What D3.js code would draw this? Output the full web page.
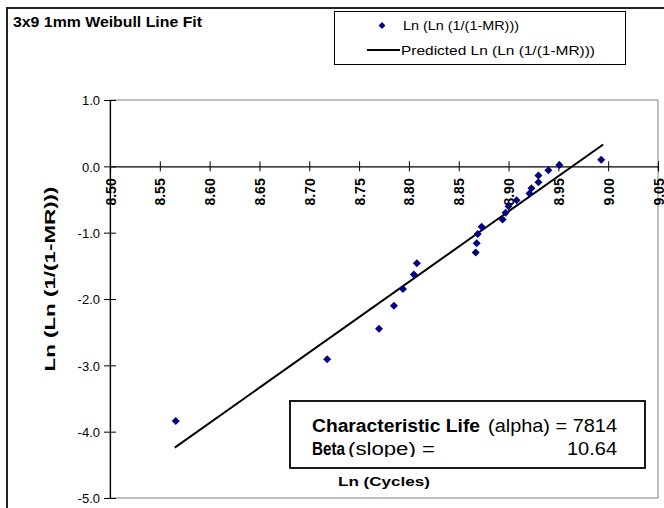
<!DOCTYPE html>
<html>
<head>
<meta charset="utf-8">
<script src="https://cdn.jsdelivr.net/npm/d3@7/dist/d3.min.js"></script>
<style>
  html, body { margin: 0; padding: 0; background: #fff; }
  svg { display: block; font-family: "Liberation Sans", Arial, sans-serif; }
</style>
</head>
<body>
<svg id="chart" width="664" height="508"></svg>
<script>
// ---- data ----
const lnCycles = [8.566, 8.718, 8.770, 8.785, 8.794, 8.805, 8.808, 8.867, 8.868, 8.869, 8.873,
                  8.894, 8.897, 8.900, 8.908, 8.921, 8.923, 8.930, 8.930, 8.940, 8.951, 8.993];
const lnLnMR   = [-3.84, -2.91, -2.45, -2.10, -1.85, -1.63, -1.46, -1.30, -1.16, -1.02, -0.91,
                  -0.80, -0.70, -0.60, -0.51, -0.41, -0.33, -0.24, -0.14, -0.06, 0.02, 0.10];
const predictedX = [8.565, 8.995];
const predictedY = [-4.24, 0.33];
const xTicks = [8.50, 8.55, 8.60, 8.65, 8.70, 8.75, 8.80, 8.85, 8.90, 8.95, 9.00, 9.05];
const xTickLabels = ["8.50", "8.55", "8.60", "8.65", "8.70", "8.75", "8.80", "8.85", "8.90", "8.95", "9.00", "9.05"];
const yTicks = [1, 0, -1, -2, -3, -4, -5];
const yTickLabels = ["1.0", "0.0", "-1.0", "-2.0", "-3.0", "-4.0", "-5.0"];
const seriesNames = ["Ln (Ln (1/(1-MR)))", "Predicted Ln (Ln (1/(1-MR)))"];
const alphaValue = "7814";
const betaValue = "10.64";

const svg = d3.select("#chart");

// outer chart border
svg.append("rect").attr("x", 7).attr("y", 8).attr("width", 700).attr("height", 560)
  .attr("fill", "#fff").attr("stroke", "#222").attr("stroke-width", 2);

const x = d3.scaleLinear().domain([8.5, 9.05]).range([110, 658]);
const y = d3.scaleLinear().domain([-5, 1]).range([498, 100]);

// plot area border
svg.append("rect").attr("x", x(8.5)).attr("y", y(1)).attr("width", x(9.05) - x(8.5)).attr("height", y(-5) - y(1))
  .attr("fill", "none").attr("stroke", "#808080").attr("stroke-width", 1);

// title
svg.append("text").attr("x", 13).attr("y", 27).attr("font-size", 14).attr("font-weight", "bold")
  .attr("textLength", 189).attr("lengthAdjust", "spacingAndGlyphs").text("3x9 1mm Weibull Line Fit");

// y axis
const yAxis = d3.axisLeft(y).tickValues(yTicks).tickFormat((d, i) => yTickLabels[i]).tickSize(6).tickPadding(5);
const gy = svg.append("g").attr("transform", `translate(${x(8.5)},0)`).call(yAxis);
gy.select(".domain").attr("stroke", "#000").attr("stroke-width", 1.2);
gy.selectAll(".tick line").attr("x1", -6).attr("x2", 6).attr("stroke", "#000");
gy.selectAll(".tick text").attr("font-size", 13).attr("font-family", "Liberation Sans, Arial, sans-serif")
  .attr("fill", "#000").attr("x", -10).attr("dy", "0.36em");

// x axis at y=0
const xAxis = d3.axisBottom(x).tickValues(xTicks).tickFormat((d, i) => xTickLabels[i]).tickSize(5);
const gx = svg.append("g").attr("transform", `translate(0,${y(0)})`).call(xAxis);
gx.select(".domain").attr("stroke", "#000").attr("stroke-width", 1.2);
gx.selectAll(".tick line").attr("y1", -5).attr("y2", 5).attr("stroke", "#000");
gx.selectAll(".tick text").attr("font-size", 14).attr("font-weight", "bold")
  .attr("font-family", "Liberation Sans, Arial, sans-serif").attr("fill", "#000")
  .attr("transform", "rotate(-90)").attr("text-anchor", "end")
  .attr("x", -12).attr("y", 0).attr("dy", "0.36em");

// axis titles
svg.append("text").attr("transform", "translate(55,279) rotate(-90)").attr("text-anchor", "middle")
  .attr("font-size", 14).attr("font-weight", "bold")
  .attr("textLength", 185).attr("lengthAdjust", "spacingAndGlyphs").text("Ln (Ln (1/(1-MR)))");
svg.append("text").attr("x", 384).attr("y", 486).attr("text-anchor", "middle")
  .attr("font-size", 13).attr("font-weight", "bold")
  .attr("textLength", 92).attr("lengthAdjust", "spacingAndGlyphs").text("Ln (Cycles)");

// predicted line
const pts = predictedX.map((v, i) => [v, predictedY[i]]);
svg.append("path").datum(pts)
  .attr("d", d3.line().x(d => x(d[0])).y(d => y(d[1])))
  .attr("fill", "none").attr("stroke", "#000").attr("stroke-width", 2);

// data markers
const diamond = "M0,-4L4,0L0,4L-4,0Z";
svg.append("g").selectAll("path").data(lnCycles.map((v, i) => [v, lnLnMR[i]])).join("path")
  .attr("d", diamond).attr("transform", d => `translate(${x(d[0])},${y(d[1])})`)
  .attr("fill", "#000080");

// legend
const lg = svg.append("g");
lg.append("rect").attr("x", 334.5).attr("y", 11.5).attr("width", 291).attr("height", 53)
  .attr("fill", "#fff").attr("stroke", "#000").attr("stroke-width", 1);
lg.append("path").attr("d", diamond).attr("transform", "translate(382,25.5) scale(0.85)").attr("fill", "#000080");
lg.append("text").attr("x", 403).attr("y", 30).attr("font-size", 13)
  .attr("textLength", 116).attr("lengthAdjust", "spacingAndGlyphs").text(seriesNames[0]);
lg.append("line").attr("x1", 367).attr("x2", 400).attr("y1", 50).attr("y2", 50)
  .attr("stroke", "#000").attr("stroke-width", 2);
lg.append("text").attr("x", 401).attr("y", 55).attr("font-size", 13)
  .attr("textLength", 194).attr("lengthAdjust", "spacingAndGlyphs").text(seriesNames[1]);

// stats box
const sb = svg.append("g");
sb.append("rect").attr("x", 290).attr("y", 401).attr("width", 355).attr("height", 67)
  .attr("fill", "#fff").attr("stroke", "#000").attr("stroke-width", 1.8);
sb.append("text").attr("x", 312).attr("y", 432).attr("font-size", 18).attr("font-weight", "bold")
  .attr("textLength", 168).attr("lengthAdjust", "spacingAndGlyphs").text("Characteristic Life");
sb.append("text").attr("x", 488).attr("y", 432).attr("font-size", 18)
  .attr("textLength", 129).attr("lengthAdjust", "spacingAndGlyphs").text("(alpha) = " + alphaValue);
svg.append("clipPath").attr("id", "clipB").append("rect").attr("x", 290).attr("y", 401).attr("width", 355).attr("height", 56);
const l2 = sb.append("g").attr("clip-path", "url(#clipB)");
l2.append("text").attr("x", 312).attr("y", 455).attr("font-size", 18).attr("font-weight", "bold")
  .attr("textLength", 33).attr("lengthAdjust", "spacingAndGlyphs").text("Beta");
l2.append("text").attr("x", 348).attr("y", 455).attr("font-size", 18)
  .attr("textLength", 87).attr("lengthAdjust", "spacingAndGlyphs").text("(slope) =");
sb.append("text").attr("x", 617).attr("y", 455).attr("font-size", 18).attr("text-anchor", "end")
  .attr("textLength", 50).attr("lengthAdjust", "spacingAndGlyphs").text(betaValue);
</script>
</body>
</html>
